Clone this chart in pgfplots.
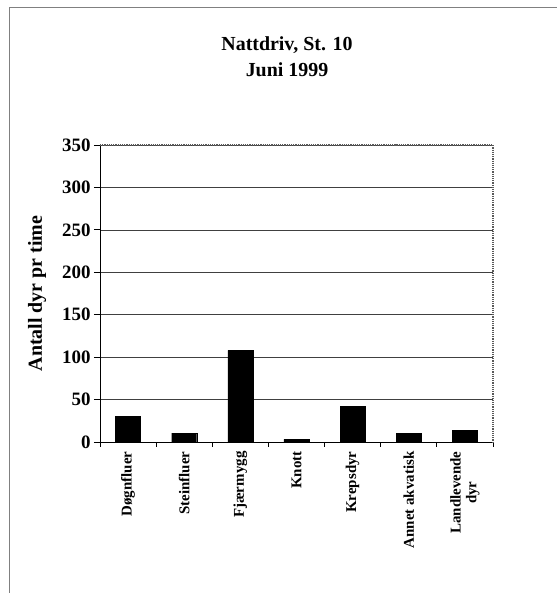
\documentclass[border=0pt]{standalone}
\usepackage{fontspec}
\setmainfont{Liberation Serif}
\usepackage{pgfplots}
\pgfplotsset{compat=1.18}

\begin{document}
\begin{tikzpicture}
\path[use as bounding box] (0bp,0bp) rectangle (557bp,593bp);
% outer frame (only top and left edges visible)
\draw[black!50, line width=0.8bp] (9bp,0bp) -- (9bp,586bp) -- (557bp,586bp);
\node[font=\bfseries\fontsize{20}{24}\selectfont, anchor=base] at (287bp,542bp) {Nattdriv, St. 10};
\node[font=\bfseries\fontsize{20}{24}\selectfont, anchor=base] at (287bp,516bp) {Juni 1999};

\begin{axis}[
    at={(100bp,151bp)}, anchor=south west,
    scale only axis, width=393bp, height=297bp,
    clip=false,
    xmin=-0.5, xmax=6.5,
    ymin=0, ymax=350,
    ytick={0,50,...,350},
    xtick={0,...,6},
    xticklabels={Døgnfluer,Steinfluer,Fjærmygg,Knott,Krepsdyr,Annet akvatisk,Landlevende\\dyr},
    minor xtick={-0.5,0.5,...,6.5},
    major x tick style={draw=none},
    tick align=outside,
    major tick length=6bp, minor tick length=5bp,
    tick style={black, line width=0.8bp},
    axis x line*=bottom, axis y line*=left,
    axis line style={black, line width=0.9bp},
    ymajorgrids, grid style={black!75, line width=0.6bp},
    /pgf/number format/assume math mode=true,
    yticklabel style={font=\bfseries\fontsize{19}{19}\selectfont},
    xticklabel style={rotate=90, anchor=east, align=center, font=\bfseries\fontsize{15}{16}\selectfont},
    ylabel={Antall dyr pr time},
    ylabel style={font=\bfseries\fontsize{20}{20}\selectfont, yshift=9bp},
    ybar, bar width=25bp,
]
\addplot[fill=black, draw=black] coordinates {
    (0,30) (1,10.5) (2,108) (3,3) (4,42) (5,10) (6,14)
};
\draw[black!65, densely dotted, line width=1.2bp] (rel axis cs:0,1) -- (rel axis cs:1,1) -- (rel axis cs:1,0);
\end{axis}
\end{tikzpicture}
\end{document}
